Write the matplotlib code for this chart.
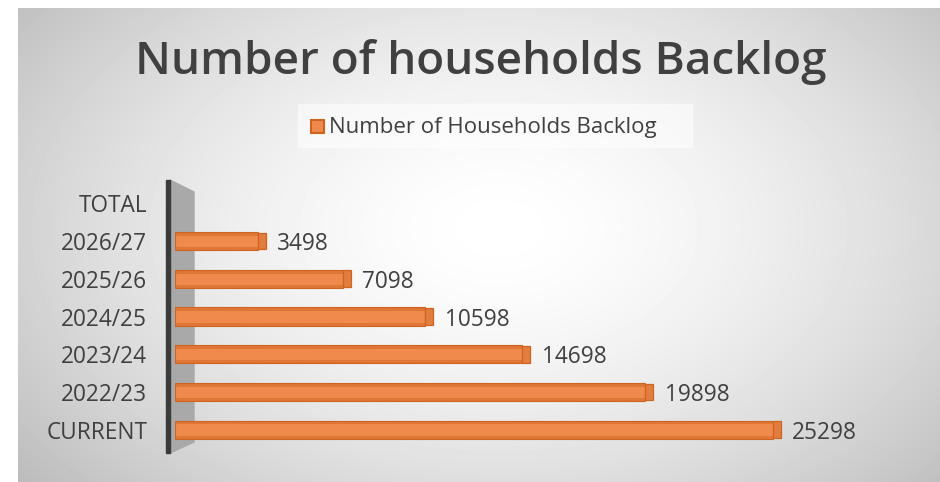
import numpy as np
import matplotlib
matplotlib.use("Agg")
import matplotlib.pyplot as plt
from matplotlib.patches import Rectangle, Polygon

plt.rcParams['font.family'] = ['Open Sans', 'DejaVu Sans']

# Data
categories = ["CURRENT", "2022/23", "2023/24", "2024/25", "2025/26", "2026/27", "TOTAL"]
backlog = [25298, 19898, 14698, 10598, 7098, 3498, np.nan]
series_name = "Number of Households Backlog"
title = "Number of households Backlog"

W, H = 940, 482
fig = plt.figure(figsize=(W / 100, H / 100), dpi=100)
fig.patch.set_facecolor("white")

# Radial grey gradient behind the chart area
bg = fig.add_axes([18 / W, 0, 1 - 18 / W, 1 - 8 / H])
bg.set_axis_off()
yy, xx = np.mgrid[0:474, 0:922]
cx, cy = 480, 220
r = np.sqrt(((xx - cx) / 470.0) ** 2 + ((yy - cy) / 300.0) ** 2)
shade = np.clip(1 - 0.17 * r ** 1.6, 0, 1)
bg.imshow(shade, cmap="gray", vmin=0, vmax=1, aspect="auto", interpolation="bilinear", zorder=0)

text_col = "#404040"
face = "#EF8A4C"
dark = "#CF6420"

# Side wall of the category axis, drawn on the background layer
bg.add_patch(Polygon([(170 / W, (H - 180) / H), (194 / W, (H - 192) / H),
                      (194 / W, (H - 442) / H), (170 / W, (H - 453) / H)],
                     closed=True, transform=fig.transFigure, color="#a9a9a9",
                     zorder=2, clip_on=False))
bg.add_patch(Rectangle((165.5 / W, (H - 453) / H), 4.5 / W, (453 - 180) / H,
                       transform=fig.transFigure, color="#3b3b3b", zorder=3, clip_on=False))

# Legend panel
bg.add_patch(Rectangle((298 / W, (H - 147) / H), 394 / W, 43 / H,
                       transform=fig.transFigure, color="white", alpha=0.55,
                       zorder=2, clip_on=False))

# Plot area
x0_px, x1_px = 175, 884
ytop_px, ybot_px = 184.6, 448.4
xmax = 30000
ax = fig.add_axes([x0_px / W, (H - ybot_px) / H, (x1_px - x0_px) / W, (ybot_px - ytop_px) / H])
ax.set_facecolor("none")
for s in ax.spines.values():
    s.set_visible(False)
ax.set_xlim(0, xmax)
ax.set_ylim(-0.5, len(categories) - 0.5)
ax.set_xticks([])
ax.set_yticks(range(len(categories)))
ax.set_yticklabels(categories, fontsize=16.3, color=text_col, va="center_baseline")
ax.tick_params(axis="y", length=0, pad=20)

px_per_unit = (x1_px - x0_px) / xmax
depth = 8 / px_per_unit
bh = 0.48
ypos = np.arange(len(categories))
vals = np.array(backlog, dtype=float)
mask = ~np.isnan(vals)

# Front face
ax.barh(ypos[mask], vals[mask], height=bh, color=face, edgecolor=dark, linewidth=0.8, zorder=3)
# Darker top and bottom rims
ax.barh(ypos[mask] + bh / 2 - 0.05, vals[mask], height=0.1, color=dark, alpha=0.5, linewidth=0, zorder=4)
ax.barh(ypos[mask] - bh / 2 + 0.04, vals[mask], height=0.08, color=dark, alpha=0.5, linewidth=0, zorder=4)
# End cap giving depth
ax.barh(ypos[mask], [depth] * mask.sum(), left=vals[mask], height=bh * 0.92,
        color="#E27D40", edgecolor=dark, linewidth=0.9, zorder=3)

for y, v in zip(ypos[mask], vals[mask]):
    ax.annotate(f"{int(v)}", xy=(v, y), xytext=(14, 0), textcoords="offset points",
                ha="left", va="center_baseline", fontsize=16.3, color=text_col, zorder=5)

# Title
fig.text(481 / W, 1 - 74 / H, title, ha="center", va="baseline",
         fontsize=33, fontweight="semibold", color=text_col)

# Legend entry
fig.add_artist(Rectangle((311 / W, (H - 133) / H), 13 / W, 13 / H,
                         transform=fig.transFigure, facecolor=face, edgecolor=dark,
                         linewidth=1.5, zorder=2))
fig.text(329 / W, 1 - 133 / H, series_name, ha="left", va="baseline",
         fontsize=16, color=text_col)

fig.savefig("out.png", dpi=100, facecolor=fig.get_facecolor())
